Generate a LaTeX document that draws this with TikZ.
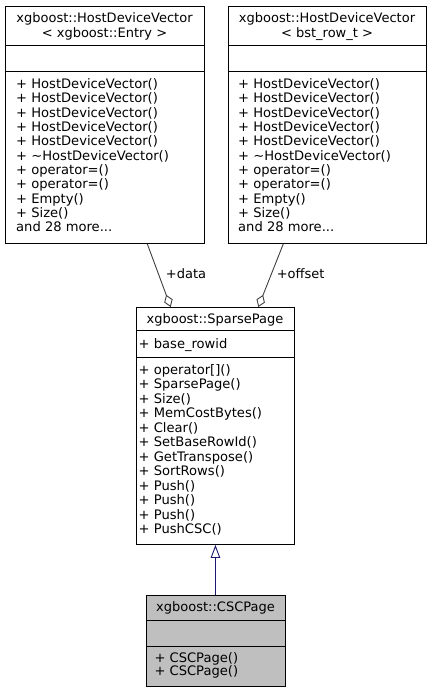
\documentclass[tikz,border=0pt]{standalone}
\usepackage{fontspec}
\setmainfont{DejaVu Sans}
\usetikzlibrary{arrows.meta}
\definecolor{grey25}{HTML}{404040}
\definecolor{navyblue}{HTML}{191970}
\definecolor{cscfill}{HTML}{BFBFBF}
\begin{document}
\begin{tikzpicture}[x=1pt,y=-1pt,
  umlbox/.style={draw=black, line width=0.9pt, rectangle, inner sep=0pt, anchor=north west},
  sepline/.style={draw=black, line width=0.9pt},
  txt/.style={inner sep=0pt, anchor=base west, font=\fontsize{13.1}{14}\selectfont},
  ttl/.style={inner sep=0pt, anchor=base, font=\fontsize{13}{14}\selectfont},
  usage/.style={draw=grey25, line width=0.9pt, -{Diamond[open, length=13pt, width=9pt]}},
  inherit/.style={draw=navyblue, line width=0.9pt, -{Triangle[open, length=13pt, width=9.5pt]}},
]
\fill[white] (0,0) rectangle (432,692);
\useasboundingbox (0,0) rectangle (432,692);

% --- HostDeviceVector< xgboost::Entry >
\node[umlbox, minimum width=199pt, minimum height=236.5pt] (hdvE) at (5,6.5) {};
\node[ttl] (hdvEt1) at (104.5,22.5) {xgboost::HostDeviceVector};
\node[ttl] (hdvEt2) at (104.5,37.5) {< xgboost::Entry >};
\draw[sepline] (hdvE.west |- 0,45) -- (hdvE.east |- 0,45);
\draw[sepline] (hdvE.west |- 0,71) -- (hdvE.east |- 0,71);
\foreach \t [count=\i from 0] in {+ HostDeviceVector(),+ HostDeviceVector(),+ HostDeviceVector(),+ HostDeviceVector(),+ HostDeviceVector(),+ \textasciitilde HostDeviceVector(),+ operator=(),+ operator=(),+ Empty(),+ Size()}
  \node[txt] (hdvEm\i) at (16,88.3+14.37*\i) {\t};
\node[txt] (hdvEmore) at (16,88.3+14.37*10) {and 28 more...};

% --- HostDeviceVector< bst_row_t >
\node[umlbox, minimum width=198pt, minimum height=236.5pt] (hdvB) at (228,6.5) {};
\node[ttl] (hdvBt1) at (327,22.5) {xgboost::HostDeviceVector};
\node[ttl] (hdvBt2) at (327,37.5) {< bst\_row\_t >};
\draw[sepline] (hdvB.west |- 0,45) -- (hdvB.east |- 0,45);
\draw[sepline] (hdvB.west |- 0,71) -- (hdvB.east |- 0,71);
\foreach \t [count=\i from 0] in {+ HostDeviceVector(),+ HostDeviceVector(),+ HostDeviceVector(),+ HostDeviceVector(),+ HostDeviceVector(),+ \textasciitilde HostDeviceVector(),+ operator=(),+ operator=(),+ Empty(),+ Size()}
  \node[txt] (hdvBm\i) at (238,88.3+14.37*\i) {\t};
\node[txt] (hdvBmore) at (238,88.3+14.37*10) {and 28 more...};

% --- SparsePage
\node[umlbox, minimum width=158pt, minimum height=237pt] (sparse) at (136,307) {};
\node[ttl] (spt) at (215,323.3) {xgboost::SparsePage};
\draw[sepline] (sparse.west |- 0,330) -- (sparse.east |- 0,330);
\node[txt] (spa) at (138.5,348.6) {+ base\_rowid};
\draw[sepline] (sparse.west |- 0,357) -- (sparse.east |- 0,357);
\foreach \t [count=\i from 0] in {+ operator[](),+ SparsePage(),+ Size(),+ MemCostBytes(),+ Clear(),+ SetBaseRowId(),+ GetTranspose(),+ SortRows(),+ Push(),+ Push(),+ Push(),+ PushCSC()}
  \node[txt] (spm\i) at (138.5,374.3+14.5*\i) {\t};

% --- CSCPage
\node[umlbox, fill=cscfill, minimum width=139pt, minimum height=91pt] (csc) at (146,595) {};
\node[ttl] (csct) at (215.5,611) {xgboost::CSCPage};
\draw[sepline] (csc.west |- 0,620) -- (csc.east |- 0,620);
\draw[sepline] (csc.west |- 0,646) -- (csc.east |- 0,646);
\node[txt] (cscm0) at (154.3,662) {+ CSCPage()};
\node[txt] (cscm1) at (154.3,675.3) {+ CSCPage()};

% --- connectors
\coordinate (dS) at ([xshift=142.3pt]hdvE.south west);
\coordinate (dE) at ([xshift=34.7pt]sparse.north west);
\coordinate (oS) at ([xshift=55.3pt]hdvB.south west);
\coordinate (oE) at ([xshift=122.3pt]sparse.north west);
\draw[usage] (dS) -- (dE);
\draw[usage] (oS) -- (oE);
\node[ttl] (dataL) at (186,278.6) {+data};
\node[ttl] (offL) at (300.6,278.6) {+offset};
\draw[inherit] (csc.north -| sparse.south) -- (sparse.south);
\end{tikzpicture}
\end{document}
